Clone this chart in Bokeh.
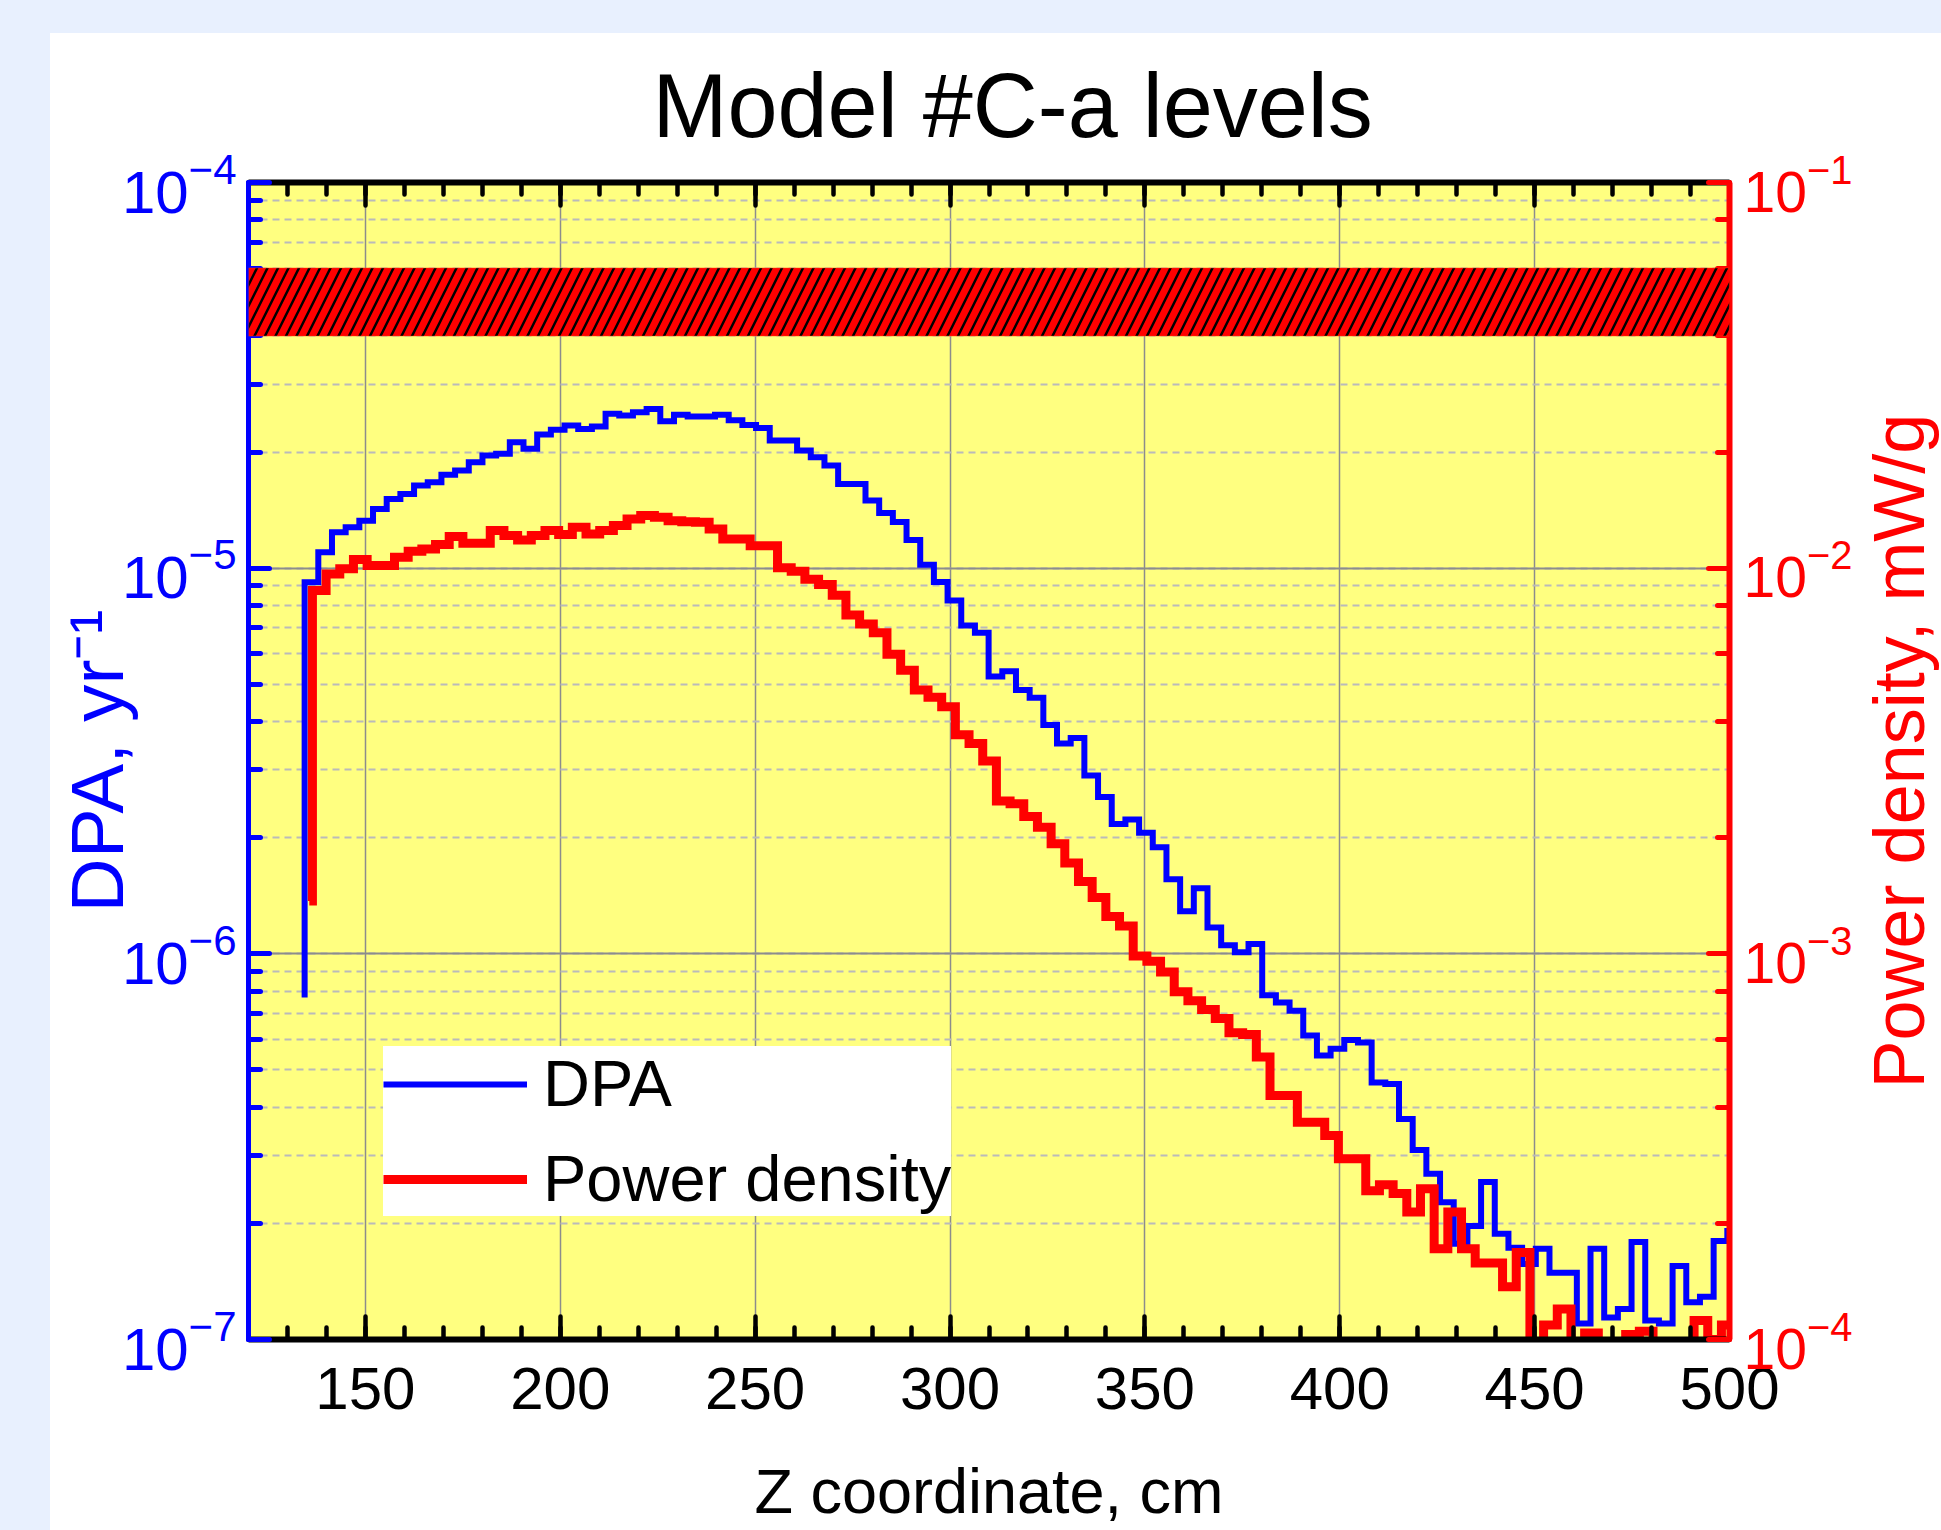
import numpy as np
from bokeh.plotting import figure
from bokeh.layouts import row
from bokeh.models import (Range1d, LogScale, LogAxis, LinearAxis, SingleIntervalTicker,
                          BoxAnnotation, CustomJSTickFormatter)
from bokeh.core.properties import value
from bokeh.embed import file_html
from bokeh.resources import INLINE

# ---------------- data ----------------
BIN_WIDTH = 3.51            # cm, histogram bin width
DPA_FIRST_EDGE = 134.4      # cm
POWER_FIRST_EDGE = 136.4    # cm
DPA_START = 7.7e-7          # DPA trace starts from this value at its first edge
POWER_START_Z = 135.6       # cm
POWER_START = 1.37e-3       # mW/g
OFF = 5e-5                  # power-density bins that fall below the plotted range

DPA = [9.19e-6, 1.10e-5, 1.239e-5, 1.276e-5, 1.328e-5, 1.424e-5, 1.512e-5, 1.558e-5, 1.637e-5, 1.670e-5,
       1.748e-5, 1.791e-5, 1.882e-5, 1.959e-5, 1.979e-5, 2.121e-5, 2.039e-5, 2.221e-5, 2.284e-5, 2.343e-5,
       2.297e-5, 2.329e-5, 2.513e-5, 2.488e-5, 2.537e-5, 2.588e-5, 2.404e-5, 2.498e-5, 2.473e-5, 2.473e-5,
       2.498e-5, 2.42e-5, 2.35e-5, 2.31e-5, 2.143e-5, 2.143e-5, 2.018e-5, 1.94e-5, 1.845e-5, 1.654e-5,
       1.654e-5, 1.497e-5, 1.39e-5, 1.318e-5, 1.184e-5, 1.02e-5, 9.21e-6, 8.24e-6, 7.10e-6, 6.80e-6,
       5.24e-6, 5.40e-6, 4.83e-6, 4.61e-6, 3.92e-6, 3.51e-6, 3.63e-6, 2.90e-6, 2.55e-6, 2.17e-6,
       2.23e-6, 2.06e-6, 1.89e-6, 1.56e-6, 1.29e-6, 1.48e-6, 1.17e-6, 1.053e-6, 1.01e-6, 1.06e-6,
       7.81e-7, 7.48e-7, 7.12e-7, 6.14e-7, 5.45e-7, 5.67e-7, 5.98e-7, 5.89e-7, 4.64e-7, 4.60e-7,
       3.73e-7, 3.10e-7, 2.69e-7, 2.27e-7, 1.77e-7, 1.97e-7, 2.56e-7, 1.88e-7, 1.73e-7, 1.57e-7,
       1.72e-7, 1.49e-7, 1.49e-7, 1.10e-7, 1.72e-7, 1.14e-7, 1.20e-7, 1.79e-7, 1.12e-7, 1.10e-7,
       1.55e-7, 1.25e-7, 1.29e-7, 1.80e-7, 1.91e-7]

POWER = [8.75e-3, 9.66e-3, 9.96e-3, 1.053e-2, 1.016e-2, 1.016e-2, 1.067e-2, 1.106e-2, 1.122e-2, 1.151e-2,
         1.208e-2, 1.16e-2, 1.16e-2, 1.252e-2, 1.215e-2, 1.184e-2, 1.215e-2, 1.252e-2, 1.222e-2, 1.276e-2,
         1.227e-2, 1.252e-2, 1.29e-2, 1.342e-2, 1.369e-2, 1.355e-2, 1.328e-2, 1.32e-2, 1.315e-2, 1.264e-2,
         1.19e-2, 1.19e-2, 1.144e-2, 1.144e-2, 1.003e-2, 9.82e-3, 9.36e-3, 9.07e-3, 8.51e-3, 7.56e-3,
         7.17e-3, 6.80e-3, 5.98e-3, 5.44e-3, 4.83e-3, 4.63e-3, 4.37e-3, 3.70e-3, 3.51e-3, 3.16e-3,
         2.49e-3, 2.45e-3, 2.27e-3, 2.13e-3, 1.93e-3, 1.72e-3, 1.54e-3, 1.40e-3, 1.25e-3, 1.18e-3,
         9.87e-4, 9.56e-4, 8.97e-4, 7.98e-4, 7.56e-4, 7.17e-4, 6.80e-4, 6.24e-4, 6.18e-4, 5.4e-4,
         4.29e-4, 4.29e-4, 3.66e-4, 3.66e-4, 3.38e-4, 2.94e-4, 2.94e-4, 2.43e-4, 2.52e-4, 2.39e-4,
         2.14e-4, 2.46e-4, 1.72e-4, 2.14e-4, 1.72e-4, 1.58e-4, 1.58e-4, 1.37e-4, 1.68e-4, OFF,
         1.09e-4, 1.2e-4, OFF, 1.04e-4, OFF, OFF, 1.03e-4, 1.05e-4, OFF, OFF,
         OFF, 1.12e-4, 1.0e-4, 1.09e-4]

BAND_LOW, BAND_HIGH = 4e-5, 6e-5     # DPA limit band
X_RANGE = (120, 500)
DPA_RANGE = (1e-7, 1e-4)
POWER_RANGE = (1e-4, 1e-1)

TITLE = "Model #C-a levels"
XLABEL = "Z coordinate, cm"
YLABEL_LEFT = "DPA, yr\u207b\u00b9"
YLABEL_RIGHT = "Power density, mW/g"

# ---------------- styling ----------------
FONT = "Liberation Sans"
BLUE = "#0000FF"
RED = "#FF0000"
PAGE_BLUE = "#E8F0FE"
TOP = 18          # page y where the figures start
STRIP = 15        # light-blue strip kept above the white panel (page 18 .. 33)
H = 1530 - TOP    # figure height
W_MAIN = 1805     # main figure width
W_SIDE = 1891 - W_MAIN    # side strip for the right axis title

p = figure(width=W_MAIN, height=H, output_backend="svg", toolbar_location=None,
           x_range=Range1d(*X_RANGE), y_range=Range1d(*DPA_RANGE), y_axis_type="log",
           background_fill_color="#FFFF80", border_fill_color=None, title=TITLE,
           min_border_left=198, min_border_right=121, min_border_top=149 + STRIP,
           min_border_bottom=191)
p.outline_line_color = None
p.extra_y_ranges = {"power": Range1d(*POWER_RANGE)}
p.extra_y_scales = {"power": LogScale()}

p.title.text_font = FONT
p.title.text_font_size = "90px"
p.title.text_font_style = "normal"
p.title.text_color = "black"
p.title.align = "left"
p.title.offset = 404
p.title.standoff = 53


def style_axis(ax, color, major_in, minor_in, tick_w, line_w):
    ax.axis_line_color = color
    ax.axis_line_width = line_w
    ax.major_tick_line_color = color
    ax.minor_tick_line_color = color
    ax.major_tick_in = major_in
    ax.major_tick_out = 0
    ax.minor_tick_in = minor_in
    ax.minor_tick_out = 0
    ax.major_tick_line_width = tick_w
    ax.minor_tick_line_width = tick_w
    ax.major_tick_line_cap = "round"
    ax.minor_tick_line_cap = "round"
    ax.major_label_text_color = color
    ax.major_label_text_font = FONT
    ax.major_label_text_font_size = "60px"
    ax.major_label_standoff = 20
    ax.axis_label_text_color = color
    ax.axis_label_text_font = FONT
    ax.axis_label_text_font_style = "normal"


xticker = SingleIntervalTicker(interval=50, num_minor_ticks=5)
xa = p.xaxis[0]
xa.ticker = xticker
style_axis(xa, "black", 23, 12, 4.5, 6)
xa.major_label_standoff = 28
xa.axis_label = XLABEL
xa.axis_label_text_font_size = "63px"
xa.axis_label_standoff = 44

ta = LinearAxis(ticker=xticker, formatter=CustomJSTickFormatter(code="return ''"))
p.add_layout(ta, "above")
style_axis(ta, "black", 23, 12, 4.5, 6)
ta.major_label_standoff = 0
ta.major_label_text_font_size = "1px"

la = p.yaxis[0]
style_axis(la, BLUE, 21, 12, 5, 5)
la.major_label_standoff = 12
la.axis_label = YLABEL_LEFT
la.axis_label_text_font_size = "75px"
la.axis_label_standoff = -20

ra = LogAxis(y_range_name="power")
p.add_layout(ra, "right")
style_axis(ra, RED, 21, 12, 5, 6)
ra.major_label_text_font_size = "57px"
ra.major_label_standoff = 14

p.xgrid.grid_line_color = "#8C8C8C"
p.xgrid.grid_line_width = 1.5
p.ygrid.grid_line_color = "#8C8C8C"
p.ygrid.grid_line_width = 2
p.ygrid.minor_grid_line_color = "#BABABA"
p.ygrid.minor_grid_line_width = 2
p.ygrid.minor_grid_line_dash = "7 5"

# limit band (red, black diagonal hatch)
band = BoxAnnotation(bottom=BAND_LOW, top=BAND_HIGH, fill_color=RED, fill_alpha=1.0,
                     line_color="#FF4000", line_width=1.5,
                     hatch_pattern="/", hatch_color="black", hatch_alpha=1.0,
                     hatch_scale=21, hatch_weight=2.5)
p.add_layout(band)

# step traces
dpa_edges = DPA_FIRST_EDGE + BIN_WIDTH * np.arange(len(DPA) + 1)
dpa_x = [DPA_FIRST_EDGE] + list(dpa_edges)
dpa_y = [DPA_START] + DPA + [DPA[-1]]
p.step(dpa_x, dpa_y, mode="after", line_color=BLUE, line_width=6, line_join="miter",
       legend_label="DPA")

pow_edges = POWER_FIRST_EDGE + BIN_WIDTH * np.arange(len(POWER) + 1)
pow_x = [POWER_START_Z] + list(pow_edges)
pow_y = [POWER_START] + POWER + [POWER[-1]]
p.step(pow_x, pow_y, mode="after", line_color=RED, line_width=9, line_join="miter",
       y_range_name="power", legend_label="Power density")

lg = p.legend[0]
lg.location = (135, 123)
lg.label_text_font = FONT
lg.label_text_font_size = "65px"
lg.label_text_color = "black"
lg.glyph_width = 144
lg.glyph_height = 40
lg.label_standoff = 16
lg.padding = 12
lg.spacing = 20
lg.margin = 0
lg.border_line_color = None
lg.background_fill_color = "white"
lg.background_fill_alpha = 1.0

# side strip carrying the right-hand axis title (reads bottom-to-top as in the reference)
side = figure(width=W_SIDE, height=H, output_backend="svg", toolbar_location=None,
              x_range=Range1d(0, W_SIDE), y_range=Range1d(0, H),
              x_axis_location=None, y_axis_location=None, min_border=0,
              background_fill_color=None, border_fill_color=None)
side.outline_line_color = None
side.grid.visible = False
side.text(x=[W_SIDE / 2], y=[1530 - 761], text=[YLABEL_RIGHT], angle=np.pi / 2,
          text_align="center", text_baseline="middle",
          text_font=value(FONT), text_font_size=value("72px"), text_color=RED)

root = row(p, side, spacing=0,
           styles={"background-color": "white",
                   "background-image": f"linear-gradient(to bottom, {PAGE_BLUE} 0px, {PAGE_BLUE} {STRIP}px, "
                                       f"#FFFFFF {STRIP}px, #FFFFFF 100%)"})

html = file_html(root, INLINE, title=TITLE)
css = ("<style>html{margin:0!important;padding:0!important;overflow:hidden!important;background:#E8F0FE!important}"
       f"body{{margin:0!important;padding:{TOP}px 0 0 50px!important;overflow:hidden!important;"
       "background:#E8F0FE!important}</style>")
html = html.replace("</head>", css + "</head>", 1)
open("out.html", "w").write(html)
